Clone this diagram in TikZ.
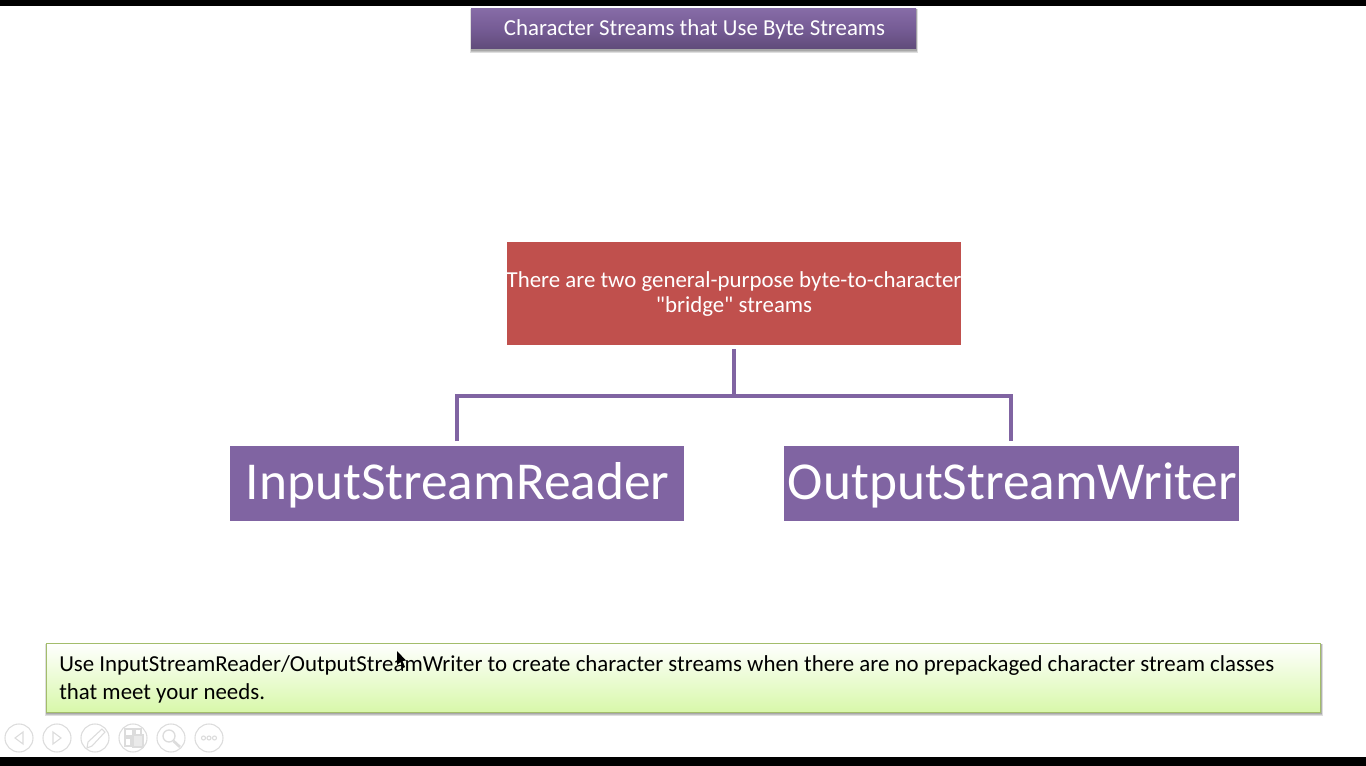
\documentclass[tikz,border=0pt]{standalone}
\usepackage{fontspec}
\setmainfont{Carlito}[Ligatures=TeXOff]
\usetikzlibrary{calc}
\definecolor{violetbox}{HTML}{8064A2}
\definecolor{redbox}{HTML}{C0504D}
\definecolor{greenedge}{HTML}{A3BD6B}
\definecolor{icongray}{HTML}{DCDCDC}
\tikzset{
  x=0.75pt,y=-0.75pt,
  flat/.style={anchor=center,inner sep=0pt,outer sep=0pt,text=white,align=center},
  branch/.style={draw=violetbox,line width=3pt,line join=miter},
  toolicon/.style={circle,draw=icongray,line width=0.8pt,minimum size=21pt,inner sep=0pt,fill=white},
  iconline/.style={draw=icongray,line width=0.8pt},
  softshadow/.style={fill=black,opacity=0.13,draw=none}
}
\newcommand{\softbox}[4]{%
  \fill[softshadow] (#1-1,#2+1) rectangle (#3+1.5,#4+4);
  \fill[softshadow] (#1,#2+1) rectangle (#3+1,#4+3);
  \fill[softshadow] (#1,#2+1) rectangle (#3+0.5,#4+2);
}
\begin{document}
\begin{tikzpicture}
\useasboundingbox (0,0) rectangle (1366,766);
\fill[white] (0,0) rectangle (1366,766);
\fill[black] (0,0) rectangle (1366,6);
\fill[black] (0,757) rectangle (1366,766);
% title
\softbox{471}{8.5}{916}{49}
\shade[top color=violetbox!95!white,bottom color=violetbox!75!black,middle color=violetbox!92!black] (471,8.5) rectangle (916,49);
\node[flat,font=\fontsize{17.15pt}{20pt}\selectfont] (title) at (694.5,29.5) {Character Streams that Use Byte Streams};
% red box
\node[flat,fill=redbox,minimum width=340.5pt,minimum height=77.25pt,font=\fontsize{17.15pt}{18.75pt}\selectfont] (bridge) at (734,294) {There are two general-purpose byte-to-character\\"bridge" streams};
% children
\node[flat,fill=violetbox,minimum width=340.5pt,minimum height=56.25pt] (reader) at (457,483.5) {};
\node[flat,fill=violetbox,minimum width=341.25pt,minimum height=56.25pt] (writer) at (1011.5,483.5) {};
\node[flat,font=\fontsize{40pt}{44pt}\selectfont] (readertext) at (457.5,485) {InputStreamReader};
\node[flat,font=\fontsize{40pt}{44pt}\selectfont] (writertext) at (1012.5,485) {OutputStreamWriter};
% connectors
\coordinate (hub) at (bridge.south |- 0,395.5);
\draw[branch] ([yshift=-3pt]bridge.south) -- (hub);
\draw[branch] ([yshift=3.75pt]reader.north) -- (reader.north |- hub) -- ([xshift=-0.375pt]writer.north |- hub) -- ([xshift=-0.375pt,yshift=3.75pt]writer.north);
% note
\softbox{46}{643}{1321}{712}
\shade[top color=white,middle color={rgb,255:red,238;green,251;blue,216},bottom color={rgb,255:red,216;green,248;blue,170}] (46,643) rectangle (1321,712);
\draw[greenedge,line width=0.75pt] (46,643) rectangle (1320.5,712);
\node[anchor=base west,inner sep=0pt,font=\fontsize{17.15pt}{21pt}\selectfont] (noteone) at (59,671) {Use InputStreamReader/OutputStreamWriter to create character streams when there are no prepackaged character stream classes};
\node[anchor=base west,inner sep=0pt,font=\fontsize{17.15pt}{21pt}\selectfont] (notetwo) at (59,699) {that meet your needs.};
% cursor
\fill[black] (397,651) -- (397,665) -- (400.5,662) -- (403,668) -- (405,667) -- (402.5,661) -- (406,660.5) -- cycle;
% toolbar
\node[toolicon] (back) at (19,738) {};
\node[toolicon] (fwd) at (57,738) {};
\node[toolicon] (pen) at (95,738) {};
\node[toolicon] (grid) at (133,738) {};
\node[toolicon] (zoomi) at (171,738) {};
\node[toolicon] (more) at (209,738) {};
\draw[iconline] (23,732) -- (15,738) -- (23,744) -- cycle;
\draw[iconline] (53,732) -- (61,738) -- (53,744) -- cycle;
\draw[iconline] (102,729) -- (105,732) -- (92,746) -- (87,748) -- (88,742) -- cycle;
\draw[iconline] (125,729) rectangle (133,736);
\draw[iconline] (135,729) rectangle (141,736);
\draw[iconline] (125,738) rectangle (131,746);
\draw[iconline,fill=icongray!60] (133,735) rectangle (143,747);
\draw[iconline,line width=1pt] (169,736) circle[radius=6];
\draw[iconline,line width=2pt] (173.5,741) -- (180,747);
\draw[iconline] (203.5,738) circle[radius=2];
\draw[iconline] (209,738) circle[radius=2];
\draw[iconline] (214.5,738) circle[radius=2];
\end{tikzpicture}
\end{document}
